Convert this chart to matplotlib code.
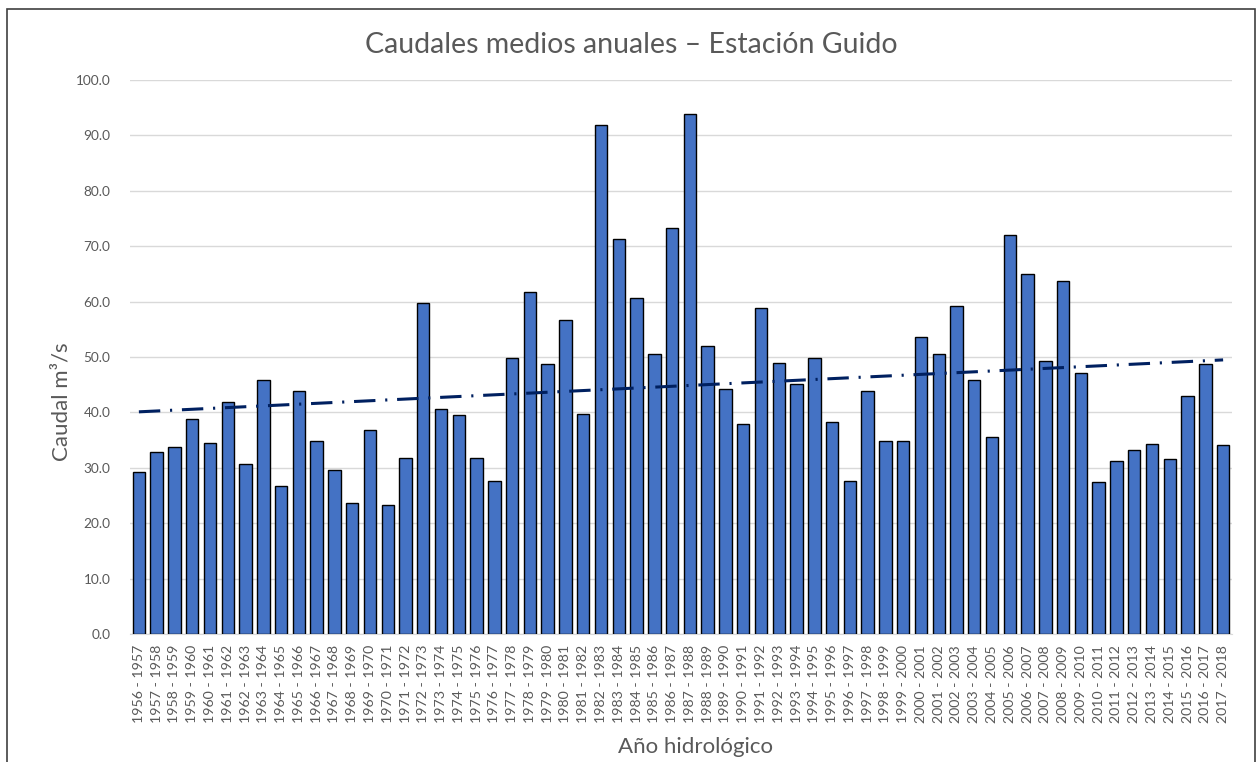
import matplotlib.pyplot as plt
import matplotlib.patches as mpatches
import numpy as np

# Data: mean annual discharge (m3/s), hydrological years 1956-1957 ... 2017-2018
start_years = list(range(1956, 2018))
categories = [f'{y} - {y + 1}' for y in start_years]
caudal = [29.3, 32.8, 33.7, 38.8, 34.5, 41.9, 30.7, 45.9, 26.7, 43.9,
          34.8, 29.6, 23.6, 36.8, 23.3, 31.7, 59.8, 40.6, 39.6, 31.7,
          27.6, 49.8, 61.7, 48.7, 56.6, 39.8, 91.9, 71.3, 60.6, 50.5,
          73.2, 93.8, 51.9, 44.3, 37.9, 58.9, 48.9, 45.2, 49.9, 38.2,
          27.6, 43.8, 34.8, 34.9, 53.6, 50.5, 59.2, 45.8, 35.5, 72.1,
          64.9, 49.3, 63.8, 47.1, 27.4, 31.2, 33.2, 34.3, 31.6, 43.0,
          48.8, 34.2]

plt.rcParams['font.family'] = ['Lato', 'DejaVu Sans']

fig = plt.figure(figsize=(12.6, 7.62), dpi=100)
ax = fig.add_axes([130 / 1260, 1 - 634 / 762, 1102 / 1260, 554 / 762])

x = np.arange(len(categories))
ax.bar(x, caudal, width=0.7, color='#4472C4', edgecolor='black', linewidth=1.0, zorder=3)

# Linear trendline (least squares, like Excel)
slope, intercept = np.polyfit(x, caudal, 1)
ax.plot(x, slope * x + intercept, color='#002060', linewidth=2.2,
        linestyle=(0, (7, 3.2, 0.7, 3.2)), zorder=4)

ax.set_xlim(-0.5, len(categories) - 0.5)
ax.set_ylim(0, 100)
ax.set_yticks(np.arange(0, 101, 10))
ax.set_yticklabels([f'{v:.1f}' for v in np.arange(0, 101, 10)])
ax.set_xticks(x)
ax.set_xticklabels(categories, rotation=90)
ax.tick_params(axis='both', length=0, colors='#595959', labelsize=9.8)
ax.tick_params(axis='x', labelsize=10.2, pad=8)
ax.tick_params(axis='y', pad=14)
ax.grid(axis='y', color='#d9d9d9', linewidth=1, zorder=0)
for s in ['top', 'right', 'left']:
    ax.spines[s].set_visible(False)
ax.spines['bottom'].set_color('#d9d9d9')

fig.text(631 / 1260, 1 - 45 / 762, 'Caudales medios anuales – Estación Guido',
         ha='center', va='center', fontsize=20.5, color='#595959')
fig.text(61 / 1260, 1 - 402 / 762, 'Caudal m³/s', rotation=90,
         ha='center', va='center', fontsize=16, color='#595959')
fig.text(695 / 1260, 1 - 747 / 762, 'Año hidrológico',
         ha='center', va='center', fontsize=16, color='#595959')

# Chart border
fig.patches.append(mpatches.Rectangle((7 / 1260, -0.05), 1248 / 1260, 1.05 - 9 / 762,
                                      transform=fig.transFigure, fill=False,
                                      edgecolor='#404040', linewidth=1.2))

fig.savefig('out.png', dpi=100)
